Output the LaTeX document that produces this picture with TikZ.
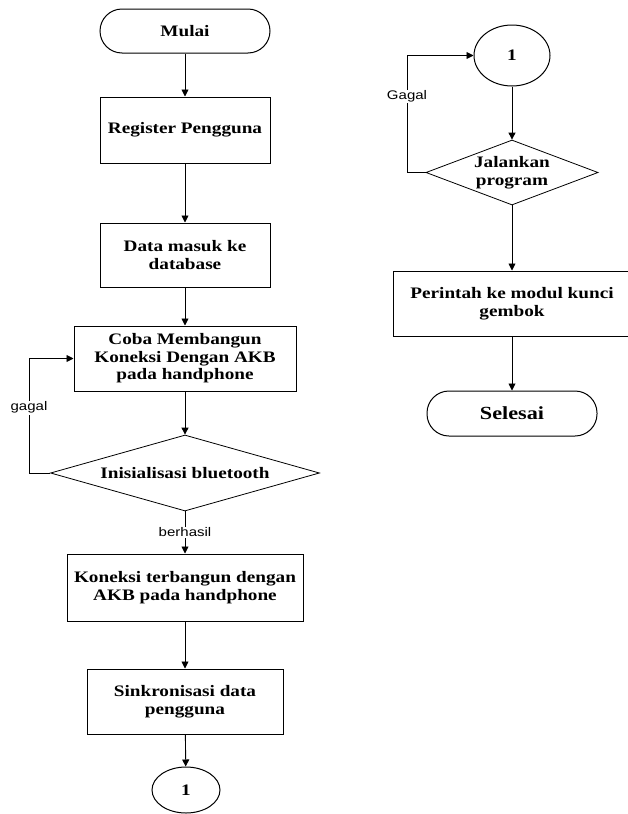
\documentclass[tikz,border=0pt]{standalone}
\usepackage{fontspec}
\setmainfont{Liberation Serif}[FakeStretch=1.2]
\newfontfamily\labfont{Liberation Sans}[FakeStretch=1.2]
\usetikzlibrary{shapes.geometric,arrows.meta}
\begin{document}
\begin{tikzpicture}[x=1pt,y=-1pt,
  base/.style={draw=black,line width=1pt,inner sep=0pt,align=center,
     font=\fontsize{16}{17.5}\selectfont\bfseries},
  procbox/.style={base,rectangle},
  termbox/.style={base,rectangle,rounded corners=22pt},
  decbox/.style={base,diamond,aspect=3,line width=0.8pt},
  conn/.style={base,ellipse},
  arr/.style={line width=0.9pt,-{Triangle[length=7pt,width=7pt]}},
  ln/.style={line width=0.9pt},
  lab/.style={fill=white,inner sep=1pt,font=\labfont\fontsize{12.5}{14}\selectfont}]
\useasboundingbox (0,0) rectangle (627,814);
% left column
\node[termbox,minimum width=170pt,minimum height=44pt] (mulai) at (185,31) {Mulai};
\node[procbox,minimum width=170pt,minimum height=66pt] (reg) at (185,130) {Register Pengguna};
\node[procbox,minimum width=170pt,minimum height=64pt] (data) at (185,255) {Data masuk ke\\database};
\node[procbox,minimum width=222pt,minimum height=65pt] (coba) at (185,358.5) {Coba Membangun\\Koneksi Dengan AKB\\pada handphone};
\node[decbox,minimum width=269pt,minimum height=76pt] (init) at (185,473) {Inisialisasi bluetooth};
\node[procbox,minimum width=236pt,minimum height=67pt] (kon) at (185,587.5) {Koneksi terbangun dengan\\AKB pada handphone};
\node[procbox,minimum width=196pt,minimum height=65pt] (sink) at (185,701.5) {Sinkronisasi data\\pengguna};
\node[conn,minimum width=68pt,minimum height=46pt] (c1) at (186,790) {1};
% right column
\node[conn,minimum width=76pt,minimum height=61pt] (c2) at (512,55.5) {1};
\node[decbox,minimum width=169pt,minimum height=65pt] (jal) at (512,172.5) {Jalankan\\program};
\node[procbox,minimum width=238pt,minimum height=65pt] (per) at (512,303.5) {Perintah ke modul kunci\\gembok};
\node[termbox,minimum width=170pt,minimum height=45pt,font=\fontsize{18.5}{20}\selectfont\bfseries] (sel) at (512,413.5) {Selesai};
% connectors left
\draw[arr] (mulai) -- (reg);
\draw[arr] (reg) -- (data);
\draw[arr] (data) -- (coba);
\draw[arr] (coba) -- (init);
\draw[arr] (init) -- node[lab,pos=0.5] {berhasil} (kon);
\draw[arr] (kon) -- (sink);
\draw[arr] (sink) -- (c1);
\coordinate (gl1) at (29,473);
\coordinate (gl2) at (29,358.5);
\draw[arr] (init.west) -- (gl1) -- node[lab,pos=0.57] {gagal} (gl2) -- (coba.west);
% connectors right
\draw[arr] (c2) -- (jal);
\draw[arr] (jal) -- (per);
\draw[arr] (per) -- (sel);
\coordinate (gr1) at (407,172.5);
\coordinate (gr2) at (407,55.5);
\draw[arr] (jal.west) -- (gr1) -- node[lab,pos=0.65] {Gagal} (gr2) -- (c2.west);
\end{tikzpicture}
\end{document}
